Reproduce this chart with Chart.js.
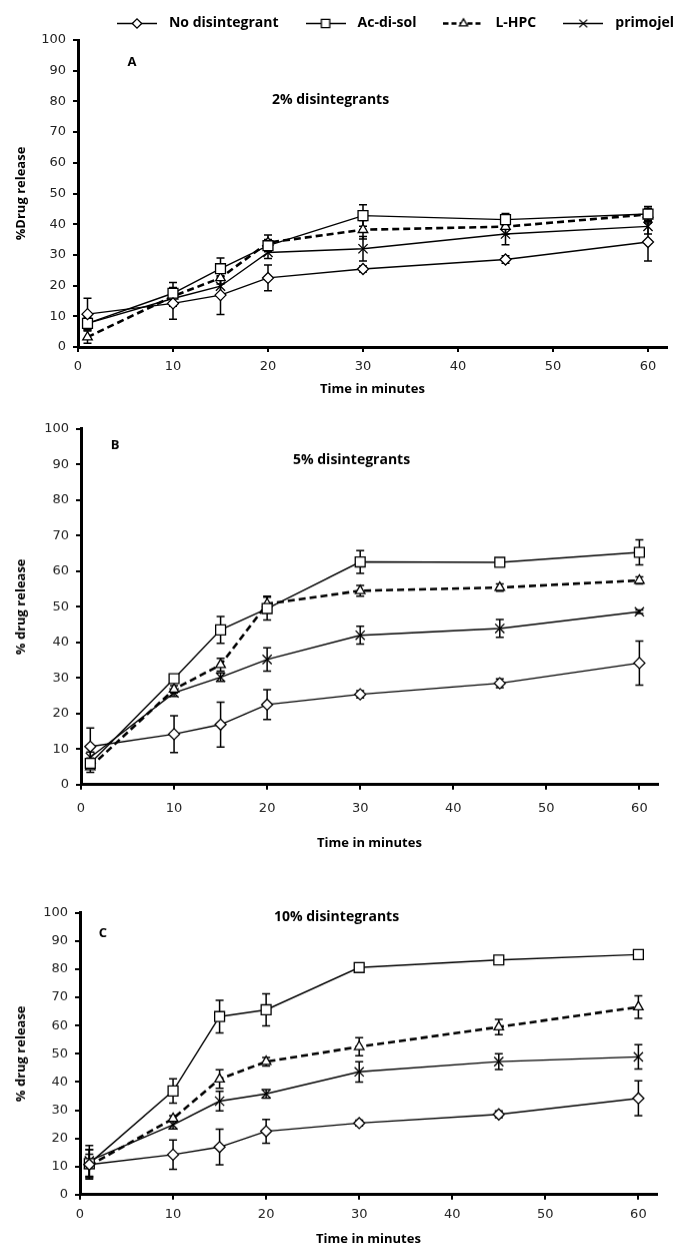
<!DOCTYPE html>
<html>
<head>
<meta charset="utf-8">
<script src="https://cdn.jsdelivr.net/npm/chart.js@4.4.1/dist/chart.umd.min.js"></script>
<style>
  body { margin: 0; background: #fff; }
  #page { position: relative; width: 696px; height: 1249px; overflow: hidden; }
  .panel { position: absolute; left: 0; width: 696px; }
</style>
</head>
<body>
<div id="page">
  <div class="panel" id="wA" style="top:0px;height:400px"><canvas id="cA"></canvas></div>
  <div class="panel" id="wB" style="top:400px;height:420px"><canvas id="cB"></canvas></div>
  <div class="panel" id="wC" style="top:860px;height:360px"><canvas id="cC"></canvas></div>
</div>
<script>
// sampling times (minutes) and axis ticks
const times = [1, 10, 15, 20, 30, 45, 60];
const xTickValues = [0, 10, 20, 30, 40, 50, 60];
const yTickValues = [0, 10, 20, 30, 40, 50, 60, 70, 80, 90, 100];
const seriesNames = ['No disintegrant', 'Ac-di-sol', 'L-HPC', 'primojel'];

// no disintegrant (same in all three panels)
const noDis = [10.7, 14.2, 16.9, 22.5, 25.4, 28.5, 34.2];
const noDisErr = [5.2, 5.2, 6.3, 4.2, 1.0, 1.2, 6.2];

// A - 2%
const acA = [7.7, 17.5, 25.5, 33.0, 42.8, 41.5, 43.3];
const acAErr = [1.5, 3.5, 3.5, 2.0, 3.5, 2.0, 2.5];
const lhpcA = [3.2, 16.5, 22.5, 34.0, 38.2, 39.2, 43.2];
const lhpcAErr = [2.0, 2.0, 2.0, 2.5, 3.0, 2.5, 2.0];
const primoA = [7.7, 15.8, 19.8, 30.8, 32.0, 36.8, 39.3];
const primoAErr = [2.0, 2.5, 3.0, 2.0, 4.0, 3.5, 2.5];

// B - 5%
const acB = [6.0, 29.8, 43.5, 49.5, 62.6, 62.5, 65.3];
const acBErr = [1.5, 1.0, 3.8, 3.2, 3.2, 1.0, 3.5];
const lhpcB = [5.0, 26.8, 33.7, 50.8, 54.5, 55.4, 57.4];
const lhpcBErr = [1.5, 1.0, 1.8, 2.2, 1.5, 1.0, 1.0];
const primoB = [7.7, 25.8, 30.2, 35.2, 42.0, 43.9, 48.6];
const primoBErr = [1.5, 1.0, 1.2, 3.3, 2.5, 2.5, 0.5];

// C - 10%
const acC = [11.0, 36.8, 63.2, 65.6, 80.6, 83.3, 85.2];
const acCErr = [5.0, 4.3, 5.8, 5.7, 1.0, 1.0, 1.0];
const lhpcC = [10.3, 27.0, 41.0, 47.2, 52.5, 59.5, 66.6];
const lhpcCErr = [4.0, 1.0, 3.3, 1.5, 3.2, 2.7, 4.0];
const primoC = [12.0, 24.8, 33.2, 35.8, 43.6, 47.2, 48.9];
const primoCErr = [5.5, 1.5, 3.5, 1.5, 3.6, 2.8, 4.3];

const styles = [
  { pointStyle: 'rectRot', radius: 5.5, dash: [], width: 1.4 },
  { pointStyle: 'rect', radius: 7, dash: [], width: 1.4 },
  { pointStyle: 'triangle', radius: 5.5, dash: [7, 4], width: 2.6 },
  { pointStyle: 'crossRot', radius: 6.5, dash: [], width: 1.4 }
];

function makeDatasets(series, errs) {
  return series.map((vals, i) => ({
    label: seriesNames[i],
    data: vals.map((v, j) => ({ x: times[j], y: v })),
    errorBars: errs[i],
    borderColor: '#000',
    borderWidth: styles[i].width,
    borderDash: styles[i].dash,
    pointStyle: styles[i].pointStyle,
    pointRadius: styles[i].radius,
    pointHoverRadius: styles[i].radius,
    pointBorderWidth: 1.3,
    pointBackgroundColor: '#fff',
    pointBorderColor: '#000',
    tension: 0,
    fill: false
  }));
}

// legend icons: short line with marker in the middle
function legendIcon(i) {
  const c = document.createElement('canvas');
  c.width = 40; c.height = 14;
  const ctx = c.getContext('2d');
  ctx.strokeStyle = '#000';
  ctx.lineWidth = i === 2 ? 2.5 : 1.5;
  ctx.setLineDash(styles[i].dash.length ? [5, 3] : []);
  ctx.beginPath(); ctx.moveTo(0, 7.5); ctx.lineTo(40, 7.5); ctx.stroke();
  ctx.setLineDash([]);
  ctx.fillStyle = '#fff';
  ctx.lineWidth = 1.3;
  Chart.helpers.drawPoint(ctx, { pointStyle: styles[i].pointStyle, radius: styles[i].radius * 0.85, rotation: 0, borderWidth: 1.3 }, 20, 7.5);
  return c;
}

const errorBarPlugin = {
  id: 'errorBars',
  beforeDatasetsDraw(chart) {
    const ctx = chart.ctx;
    const xs = chart.scales.x, ys = chart.scales.y;
    ctx.save();
    ctx.strokeStyle = '#000';
    ctx.lineWidth = 1.5;
    chart.data.datasets.forEach(ds => {
      ds.data.forEach((p, j) => {
        const e = ds.errorBars[j];
        const x = xs.getPixelForValue(p.x);
        const y1 = ys.getPixelForValue(p.y - e);
        const y2 = ys.getPixelForValue(p.y + e);
        ctx.beginPath();
        ctx.moveTo(x, y1); ctx.lineTo(x, y2);
        ctx.moveTo(x - 4, y1); ctx.lineTo(x + 4, y1);
        ctx.moveTo(x - 4, y2); ctx.lineTo(x + 4, y2);
        ctx.stroke();
      });
    });
    ctx.restore();
  }
};

const panelTextPlugin = {
  id: 'panelText',
  afterDraw(chart, args, opts) {
    if (!opts.letter) return;
    const ctx = chart.ctx, top = chart.chartArea.top;
    ctx.save();
    ctx.fillStyle = '#000';
    ctx.textBaseline = 'middle';
    ctx.font = 'bold 13px "Open Sans"';
    ctx.textAlign = 'center';
    ctx.fillText(opts.letter, opts.lx, top + opts.ly);
    ctx.font = 'bold 14px "Open Sans"';
    ctx.textAlign = 'left';
    ctx.fillText(opts.title, opts.tx, top + opts.ty);
    ctx.restore();
  }
};

function makeChart(id, series, errs, cfg) {
  return new Chart(document.getElementById(id), {
    type: 'line',
    data: { datasets: makeDatasets(series, errs) },
    options: {
      responsive: true,
      maintainAspectRatio: false,
      animation: false,
      events: [],
      layout: { padding: { left: 0, right: 0, top: cfg.padTop, bottom: 0 } },
      plugins: {
        tooltip: { enabled: false },
        legend: {
          display: cfg.legend,
          align: 'end',
          labels: {
            usePointStyle: true,
            pointStyleWidth: 50,
            padding: 22,
            color: '#000',
            font: { family: 'Open Sans', weight: 'bold', size: 14 },
            generateLabels: (chart) => chart.data.datasets.map((ds, i) => ({
              text: ds.label,
              pointStyle: legendIcon(i),
              fillStyle: '#fff',
              strokeStyle: '#000',
              lineWidth: 0,
              fontColor: '#000',
              datasetIndex: i
            }))
          }
        },
        panelText: cfg.text
      },
      scales: {
        x: {
          type: 'linear',
          min: 0,
          max: 62,
          afterFit: (s) => { s.height = cfg.hx; },
          afterBuildTicks: (s) => { s.ticks = xTickValues.map(v => ({ value: v })); },
          border: { display: true, color: '#000', width: 3 },
          grid: { drawOnChartArea: false, drawTicks: true, tickLength: 5, color: '#000', lineWidth: 2 },
          ticks: { padding: cfg.xPad, color: '#222', font: { family: 'DejaVu Sans', size: 13 }, maxRotation: 0 },
          title: { display: true, text: 'Time in minutes', color: '#000', padding: { top: 0, bottom: 0 },
                   font: { family: 'Open Sans', weight: 'bold', size: 13 } }
        },
        y: {
          min: 0,
          max: 100,
          afterFit: (s) => { s.width = cfg.left; },
          afterBuildTicks: (s) => { s.ticks = yTickValues.map(v => ({ value: v })); },
          border: { display: true, color: '#000', width: 3 },
          grid: { drawOnChartArea: false, drawTicks: true, tickLength: 5, color: '#000', lineWidth: 2 },
          ticks: { padding: 7, color: '#222', font: { family: 'DejaVu Sans', size: 13 } },
          title: { display: true, text: cfg.yTitle, color: '#000', padding: { top: 13, bottom: 0 },
                   font: { family: 'Open Sans', weight: 'bold', size: 13 } }
        },
        // empty right-hand spacer so the plot stops short of the page edge
        yRight: {
          position: 'right',
          min: 0,
          max: 1,
          afterFit: (s) => { s.width = 696 - cfg.right; },
          ticks: { display: false },
          grid: { display: false },
          border: { display: false }
        }
      }
    },
    plugins: [errorBarPlugin, panelTextPlugin]
  });
}

// place each chart so its plot area sits where the reference has it
function fitPanel(chart, wrapId, top, bottom) {
  const wrap = document.getElementById(wrapId);
  const ca = chart.chartArea;
  const h = parseFloat(wrap.style.height);
  wrap.style.height = (h + (bottom - top) - (ca.bottom - ca.top)) + 'px';
  chart.resize();
  wrap.style.top = (top - chart.chartArea.top) + 'px';
}

const chartA = makeChart('cA', [noDis, acA, lhpcA, primoA], [noDisErr, acAErr, lhpcAErr, primoAErr], {
  legend: true, padTop: 0, left: 78, right: 667, hx: 50, xPad: 7, yTitle: '%Drug release',
  text: { letter: 'A', lx: 132, ly: 22, title: '2% disintegrants', tx: 272, ty: 60 }
});
const chartB = makeChart('cB', [noDis, acB, lhpcB, primoB], [noDisErr, acBErr, lhpcBErr, primoBErr], {
  legend: false, padTop: 10, left: 81, right: 658, hx: 66, xPad: 11, yTitle: '% drug release',
  text: { letter: 'B', lx: 115, ly: 16, title: '5% disintegrants', tx: 293, ty: 31 }
});
const chartC = makeChart('cC', [noDis, acC, lhpcC, primoC], [noDisErr, acCErr, lhpcCErr, primoCErr], {
  legend: false, padTop: 10, left: 80, right: 657, hx: 52, xPad: 7, yTitle: '% drug release',
  text: { letter: 'C', lx: 103, ly: 20, title: '10% disintegrants', tx: 274, ty: 4 }
});

fitPanel(chartA, 'wA', 40, 347);
fitPanel(chartB, 'wB', 429, 784);
fitPanel(chartC, 'wC', 913, 1194);
</script>
</body>
</html>
